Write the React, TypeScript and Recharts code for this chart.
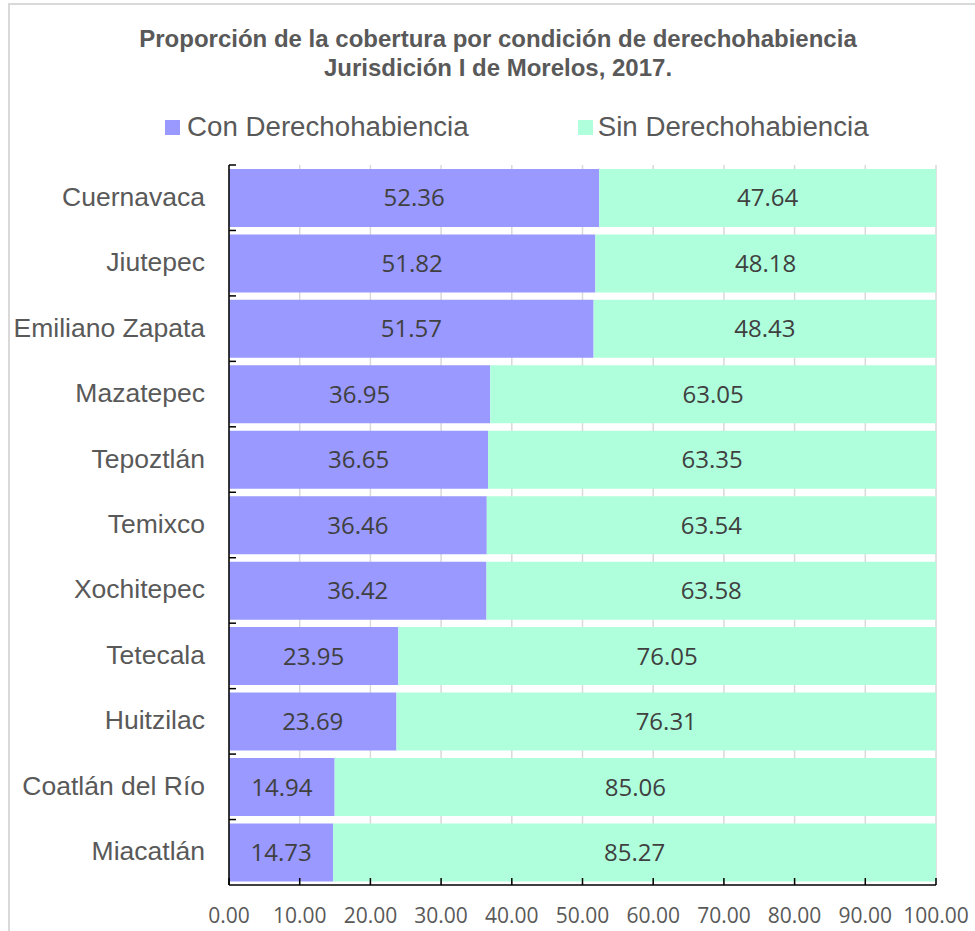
import React from 'react';
import { BarChart, Bar, XAxis, YAxis, CartesianGrid, Legend, LabelList } from 'recharts';

const municipios = [
  'Cuernavaca',
  'Jiutepec',
  'Emiliano Zapata',
  'Mazatepec',
  'Tepoztlán',
  'Temixco',
  'Xochitepec',
  'Tetecala',
  'Huitzilac',
  'Coatlán del Río',
  'Miacatlán',
];
const conDerecho = [52.36, 51.82, 51.57, 36.95, 36.65, 36.46, 36.42, 23.95, 23.69, 14.94, 14.73];
const sinDerecho = [47.64, 48.18, 48.43, 63.05, 63.35, 63.54, 63.58, 76.05, 76.31, 85.06, 85.27];
const xTicks = [0, 10, 20, 30, 40, 50, 60, 70, 80, 90, 100];

const data = municipios.map((name, i) => ({
  name,
  con: conDerecho[i],
  sin: sinDerecho[i],
}));

const ARIAL = '"Liberation Sans", Arial, sans-serif';
const CALIBRI = '"Open Sans", "Noto Sans", sans-serif';
const MORADO = '#9999FF';
const VERDE = '#AFFFDD';

// etiqueta de categoria + marca en el borde de cada banda
const CategoryTick = (props: any) => {
  const { x, y, payload } = props;
  const half = payload && payload.offset ? payload.offset : 720 / 22;
  const axisX = x + 24;
  return (
    <g>
      <line x1={axisX} x2={axisX + 7} y1={y - half} y2={y - half} stroke="#000" strokeWidth={1.5} />
      <text
        x={x}
        y={y}
        dy={8}
        textAnchor="end"
        fill="#595959"
        fontSize={26.5}
        fontFamily={ARIAL}
      >
        {payload.value}
      </text>
    </g>
  );
};

const LegendContent = () => (
  <div style={{ height: 30, display: 'flex', alignItems: 'center', paddingLeft: 165, fontFamily: ARIAL, fontSize: 27.7, color: '#595959' }}>
    <span style={{ width: 15, height: 15, background: MORADO, marginRight: 7 }} />
    <span style={{ marginRight: 109 }}>Con Derechohabiencia</span>
    <span style={{ width: 15, height: 15, background: VERDE, marginRight: 5 }} />
    <span>Sin Derechohabiencia</span>
  </div>
);

const App = () => {
  return (
    <div style={{ position: 'absolute', left: 0, top: 0, width: 975, height: 931, overflow: 'hidden', background: '#fff' }}>
      <div style={{ position: 'absolute', left: 8, top: 3, width: 1100, height: 1100, border: '2px solid #d9d9d9' }} />
      <div
        style={{
          position: 'absolute',
          left: 0,
          top: 24,
          width: 996,
          textAlign: 'center',
          fontFamily: ARIAL,
          fontWeight: 'bold',
          fontSize: 24,
          lineHeight: '29px',
          color: '#595959',
        }}
      >
        Proporción de la cobertura por condición de derechohabiencia
        <br />
        Jurisdición I de Morelos, 2017.
      </div>
      <div style={{ position: 'absolute', left: 0, top: 0 }}>
        <BarChart
          width={975}
          height={931}
          data={data}
          layout="vertical"
          barCategoryGap="6%"
          margin={{ top: 135, right: 39, bottom: 0, left: 0 }}
        >
          <CartesianGrid horizontal={false} vertical={true} stroke="#d9d9d9" strokeWidth={1.5} />
          <XAxis
            type="number"
            domain={[0, 100]}
            ticks={xTicks}
            tickFormatter={(v: number) => v.toFixed(2)}
            height={46}
            axisLine={{ stroke: '#000', strokeWidth: 1.5 }}
            tickLine={{ stroke: '#000', strokeWidth: 1.5 }}
            tickSize={-7}
            tickMargin={30}
            tick={{ fill: '#595959', fontSize: 21, fontFamily: CALIBRI }}
            interval={0}
          />
          <YAxis
            type="category"
            dataKey="name"
            width={229}
            axisLine={{ stroke: '#000', strokeWidth: 1.5 }}
            tickLine={false}
            tickSize={0}
            tickMargin={24}
            tick={<CategoryTick />}
            interval={0}
          />
          <Legend
            verticalAlign="top"
            align="left"
            content={<LegendContent />}
            wrapperStyle={{ top: 112, left: 0, width: 975 }}
          />
          <Bar dataKey="con" name="Con Derechohabiencia" stackId="a" fill={MORADO} isAnimationActive={false}>
            <LabelList
              dataKey="con"
              position="center"
              formatter={(v: any) => Number(v).toFixed(2)}
              fill="#404040"
              fontSize={24}
              fontFamily={CALIBRI}
            />
          </Bar>
          <Bar dataKey="sin" name="Sin Derechohabiencia" stackId="a" fill={VERDE} isAnimationActive={false}>
            <LabelList
              dataKey="sin"
              position="center"
              formatter={(v: any) => Number(v).toFixed(2)}
              fill="#404040"
              fontSize={24}
              fontFamily={CALIBRI}
            />
          </Bar>
        </BarChart>
      </div>
    </div>
  );
};

export default App;
